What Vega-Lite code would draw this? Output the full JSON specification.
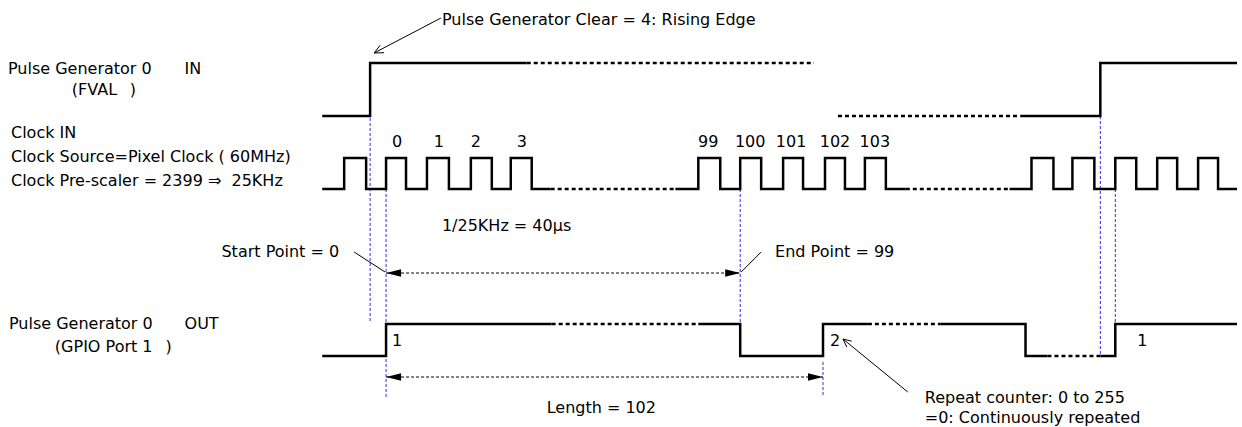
{
  "$schema": "https://vega.github.io/schema/vega-lite/v6.json",
  "width": 1242,
  "height": 427,
  "padding": 0,
  "autosize": {"type": "fit", "contains": "padding"},
  "background": "white",
  "config": {"view": {"stroke": null}},
  "datasets": {
    "waves": [
      {"seg": "fa", "part": "shown", "x": 323, "y": 116},
      {"seg": "fa", "part": "shown", "x": 371, "y": 63},
      {"seg": "fa", "part": "shown", "x": 528, "y": 63},
      {"seg": "fb", "part": "elided", "x": 528, "y": 63},
      {"seg": "fb", "part": "elided", "x": 816, "y": 63},
      {"seg": "fc", "part": "elided", "x": 840, "y": 116},
      {"seg": "fc", "part": "elided", "x": 1023, "y": 116},
      {"seg": "fd", "part": "shown", "x": 1023, "y": 116},
      {"seg": "fd", "part": "shown", "x": 1103, "y": 63},
      {"seg": "fd", "part": "shown", "x": 1240, "y": 63},

      {"seg": "ca", "part": "shown", "x": 323, "y": 189},
      {"seg": "ca", "part": "shown", "x": 345, "y": 158},
      {"seg": "ca", "part": "shown", "x": 367, "y": 189},
      {"seg": "ca", "part": "shown", "x": 387, "y": 158},
      {"seg": "ca", "part": "shown", "x": 407, "y": 189},
      {"seg": "ca", "part": "shown", "x": 428, "y": 158},
      {"seg": "ca", "part": "shown", "x": 450, "y": 189},
      {"seg": "ca", "part": "shown", "x": 472, "y": 158},
      {"seg": "ca", "part": "shown", "x": 493, "y": 189},
      {"seg": "ca", "part": "shown", "x": 512, "y": 158},
      {"seg": "ca", "part": "shown", "x": 533, "y": 189},
      {"seg": "ca", "part": "shown", "x": 552, "y": 189},
      {"seg": "cb", "part": "elided", "x": 552, "y": 189},
      {"seg": "cb", "part": "elided", "x": 677, "y": 189},
      {"seg": "cc", "part": "shown", "x": 677, "y": 189},
      {"seg": "cc", "part": "shown", "x": 700, "y": 158},
      {"seg": "cc", "part": "shown", "x": 722, "y": 189},
      {"seg": "cc", "part": "shown", "x": 742, "y": 158},
      {"seg": "cc", "part": "shown", "x": 763, "y": 189},
      {"seg": "cc", "part": "shown", "x": 785, "y": 158},
      {"seg": "cc", "part": "shown", "x": 805, "y": 189},
      {"seg": "cc", "part": "shown", "x": 827, "y": 158},
      {"seg": "cc", "part": "shown", "x": 847, "y": 189},
      {"seg": "cc", "part": "shown", "x": 867, "y": 158},
      {"seg": "cc", "part": "shown", "x": 888, "y": 189},
      {"seg": "cc", "part": "shown", "x": 908, "y": 189},
      {"seg": "cd", "part": "elided", "x": 908, "y": 189},
      {"seg": "cd", "part": "elided", "x": 1012, "y": 189},
      {"seg": "ce", "part": "shown", "x": 1012, "y": 189},
      {"seg": "ce", "part": "shown", "x": 1034, "y": 158},
      {"seg": "ce", "part": "shown", "x": 1056, "y": 189},
      {"seg": "ce", "part": "shown", "x": 1075, "y": 158},
      {"seg": "ce", "part": "shown", "x": 1097, "y": 189},
      {"seg": "ce", "part": "shown", "x": 1118, "y": 158},
      {"seg": "ce", "part": "shown", "x": 1139, "y": 189},
      {"seg": "ce", "part": "shown", "x": 1160, "y": 158},
      {"seg": "ce", "part": "shown", "x": 1180, "y": 189},
      {"seg": "ce", "part": "shown", "x": 1201, "y": 158},
      {"seg": "ce", "part": "shown", "x": 1221, "y": 189},
      {"seg": "ce", "part": "shown", "x": 1240, "y": 189},

      {"seg": "oa", "part": "shown", "x": 323, "y": 356},
      {"seg": "oa", "part": "shown", "x": 387, "y": 324},
      {"seg": "oa", "part": "shown", "x": 553, "y": 324},
      {"seg": "ob", "part": "elided", "x": 553, "y": 324},
      {"seg": "ob", "part": "elided", "x": 700, "y": 324},
      {"seg": "oc", "part": "shown", "x": 700, "y": 324},
      {"seg": "oc", "part": "shown", "x": 742, "y": 356},
      {"seg": "oc", "part": "shown", "x": 825, "y": 324},
      {"seg": "oc", "part": "shown", "x": 870, "y": 324},
      {"seg": "od", "part": "elided", "x": 870, "y": 324},
      {"seg": "od", "part": "elided", "x": 943, "y": 324},
      {"seg": "oe", "part": "shown", "x": 943, "y": 324},
      {"seg": "oe", "part": "shown", "x": 1028, "y": 356},
      {"seg": "oe", "part": "shown", "x": 1050, "y": 356},
      {"seg": "of", "part": "elided", "x": 1050, "y": 356},
      {"seg": "of", "part": "elided", "x": 1103, "y": 356},
      {"seg": "og", "part": "shown", "x": 1103, "y": 356},
      {"seg": "og", "part": "shown", "x": 1118, "y": 324},
      {"seg": "og", "part": "shown", "x": 1240, "y": 324}
    ],
    "guides": [
      {"x": 371, "y": 118, "y2": 323},
      {"x": 387, "y": 189, "y2": 397},
      {"x": 742, "y": 189, "y2": 323},
      {"x": 825, "y": 362, "y2": 397},
      {"x": 1103, "y": 116, "y2": 356},
      {"x": 1118, "y": 189, "y2": 323}
    ],
    "dims": [
      {"x": 387, "x2": 742, "y": 273},
      {"x": 387, "x2": 825, "y": 377}
    ],
    "heads": [
      {"x": 387, "y": 273, "dir": "left"},
      {"x": 742, "y": 273, "dir": "right"},
      {"x": 387, "y": 377, "dir": "left"},
      {"x": 825, "y": 377, "dir": "right"}
    ],
    "leaders": [
      {"x": 442, "y": 18, "x2": 375, "y2": 53},
      {"x": 375, "y": 53, "x2": 385, "y2": 52.7},
      {"x": 375, "y": 53, "x2": 381.2, "y2": 45.1},
      {"x": 355, "y": 252, "x2": 386, "y2": 272},
      {"x": 763, "y": 252, "x2": 743, "y2": 272},
      {"x": 910, "y": 392, "x2": 845, "y2": 339},
      {"x": 845, "y": 339, "x2": 848.9, "y2": 347.1},
      {"x": 845, "y": 339, "x2": 853.7, "y2": 341.2}
    ],
    "labels": [
      {"text": "Pulse Generator Clear = 4: Rising Edge", "x": 443, "y": 25},
      {"text": "Pulse Generator 0", "x": 8, "y": 74},
      {"text": "IN", "x": 185, "y": 74},
      {"text": "(FVAL", "x": 72, "y": 95},
      {"text": ")", "x": 130, "y": 95},
      {"text": "Clock IN", "x": 11, "y": 138},
      {"text": "Clock Source=Pixel Clock ( 60MHz)", "x": 11, "y": 162},
      {"text": "Clock Pre-scaler = 2399 ⇒\u00a0\u00a025KHz", "x": 11, "y": 186},
      {"text": "1/25KHz = 40μs", "x": 443, "y": 231},
      {"text": "Start Point = 0", "x": 222, "y": 257},
      {"text": "End Point = 99", "x": 777, "y": 257},
      {"text": "Pulse Generator 0", "x": 9, "y": 329},
      {"text": "OUT", "x": 185, "y": 329},
      {"text": "(GPIO Port 1", "x": 55, "y": 352},
      {"text": ")", "x": 166, "y": 352},
      {"text": "Length = 102", "x": 548, "y": 413},
      {"text": "Repeat counter: 0 to 255", "x": 927, "y": 403},
      {"text": "=0: Continuously repeated", "x": 927, "y": 423}
    ],
    "counts": [
      {"text": "0", "x": 398, "y": 147},
      {"text": "1", "x": 440, "y": 147},
      {"text": "2", "x": 477, "y": 147},
      {"text": "3", "x": 523, "y": 147},
      {"text": "99", "x": 710, "y": 147},
      {"text": "100", "x": 752, "y": 147},
      {"text": "101", "x": 793, "y": 147},
      {"text": "102", "x": 837, "y": 147},
      {"text": "103", "x": 877, "y": 147},
      {"text": "1", "x": 398, "y": 346},
      {"text": "2", "x": 837, "y": 346},
      {"text": "1", "x": 1145, "y": 346}
    ]
  },
  "encoding": {
    "x": {"field": "x", "type": "quantitative", "scale": {"domain": [0, 1242], "nice": false, "zero": false}, "axis": null},
    "y": {"field": "y", "type": "quantitative", "scale": {"domain": [0, 427], "nice": false, "zero": false, "reverse": true}, "axis": null}
  },
  "layer": [
    {
      "data": {"name": "guides"},
      "mark": {"type": "rule", "color": "#2a2aff", "strokeWidth": 1, "strokeDash": [3, 2]},
      "encoding": {"y2": {"field": "y2"}}
    },
    {
      "data": {"name": "dims"},
      "mark": {"type": "rule", "color": "#000000", "strokeWidth": 1, "strokeDash": [3, 2]},
      "encoding": {"x2": {"field": "x2"}}
    },
    {
      "data": {"name": "heads"},
      "mark": {"type": "point", "filled": true, "color": "#000000", "opacity": 1, "size": 225, "strokeWidth": 0},
      "encoding": {
        "shape": {"field": "dir", "type": "nominal", "legend": null,
          "scale": {"domain": ["left", "right"], "range": ["M0,0L2,-0.5L2,0.5Z", "M0,0L-2,-0.5L-2,0.5Z"]}}
      }
    },
    {
      "data": {"name": "leaders"},
      "mark": {"type": "rule", "color": "#000000", "strokeWidth": 1},
      "encoding": {"x2": {"field": "x2"}, "y2": {"field": "y2"}}
    },
    {
      "data": {"name": "waves"},
      "mark": {"type": "line", "interpolate": "step-after", "color": "#000000", "strokeWidth": 2.5, "strokeJoin": "miter", "strokeCap": "butt"},
      "encoding": {
        "detail": {"field": "seg", "type": "nominal"},
        "strokeDash": {"field": "part", "type": "nominal", "legend": null,
          "scale": {"domain": ["shown", "elided"], "range": [[1, 0], [4, 3]]}}
      }
    },
    {
      "data": {"name": "labels"},
      "mark": {"type": "text", "align": "left", "baseline": "alphabetic", "font": "DejaVu Sans", "fontSize": 16, "color": "#000000"},
      "encoding": {"text": {"field": "text"}}
    },
    {
      "data": {"name": "counts"},
      "mark": {"type": "text", "align": "center", "baseline": "alphabetic", "font": "DejaVu Sans", "fontSize": 16, "color": "#000000"},
      "encoding": {"text": {"field": "text"}}
    }
  ]
}
